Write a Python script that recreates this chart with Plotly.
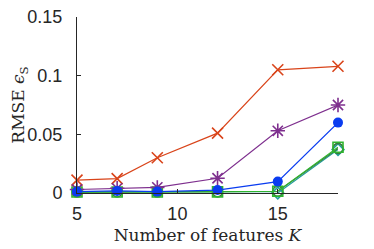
import plotly.graph_objects as go

K = [5, 7, 9, 12, 15, 18]
rmse_x = [0.011, 0.0123, 0.030, 0.051, 0.105, 0.108]
rmse_ast = [0.003, 0.004, 0.0048, 0.0126, 0.053, 0.075]
rmse_dot = [0.0012, 0.0018, 0.0012, 0.0025, 0.0097, 0.060]
rmse_sq = [0.0008, 0.0008, 0.0008, 0.0010, 0.0015, 0.039]
rmse_circ = [0.0008, 0.0009, 0.0008, 0.0010, 0.0015, 0.038]
rmse_dia = [-0.0003, -0.0002, -0.0003, -0.0002, 0.0000, 0.037]

x_ticks = [5, 10, 15]
y_ticks = [0, 0.05, 0.1, 0.15]

fig = go.Figure()

def add(y, color, symbol, size, lw=1.2, mlw=1.6):
    fig.add_trace(go.Scatter(
        x=K, y=y, mode="lines+markers", cliponaxis=False,
        line=dict(color=color, width=lw),
        marker=dict(symbol=symbol, size=size, color=color,
                    line=dict(color=color, width=mlw)),
        showlegend=False))

add(rmse_dia, "#1f9e9a", "diamond-open", 9)
add(rmse_circ, "#3a7a3a", "circle-open", 10)
add(rmse_sq, "#2fb52f", "square-open", 10)
add(rmse_x, "#d9441a", "x-thin-open", 11)
add(rmse_ast, "#7e2f8e", "asterisk-open", 12)
add(rmse_dot, "#0a3cf0", "circle", 10, mlw=0)

axis_common = dict(
    showline=True, linecolor="#262626", linewidth=1,
    ticks="inside", ticklen=4, tickcolor="#262626",
    showgrid=False, zeroline=False, automargin=False,
    ticklabeloverflow="allow",
    tickfont=dict(family="Liberation Sans", size=18, color="#262626"),
)

fig.update_layout(
    width=366, height=241,
    margin=dict(l=69, r=36, t=9, b=56),
    paper_bgcolor="white", plot_bgcolor="white",
    xaxis=dict(range=[5, 18], tickvals=x_ticks, ticklabelstandoff=4,
               title=dict(text="Number of features <i>K</i>", standoff=6,
                          font=dict(family="DejaVu Serif", size=17, color="#262626")),
               **axis_common),
    yaxis=dict(range=[0, 0.15], tickvals=y_ticks, ticktext=["0", "0.05", "0.1", "0.15"],
               ticklabelstandoff=10,
               title=dict(text="RMSE <i>ϵ</i><sub>S</sub>", standoff=8,
                          font=dict(family="DejaVu Serif", size=17, color="#262626")),
               **axis_common),
)

fig.write_html("out.html")
